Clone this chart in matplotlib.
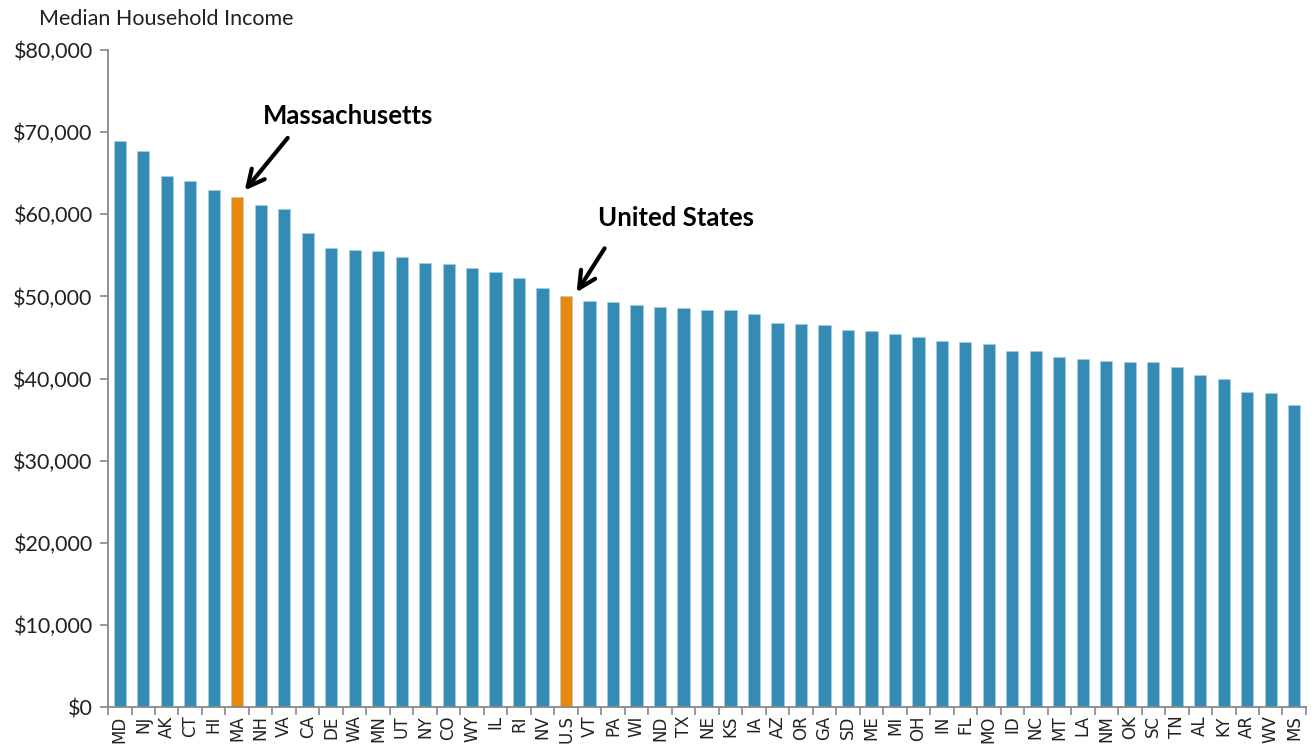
import matplotlib
matplotlib.use("Agg")
import matplotlib.pyplot as plt
from matplotlib.ticker import FuncFormatter, FixedLocator

states = ["MD", "NJ", "AK", "CT", "HI", "MA", "NH", "VA", "CA", "DE", "WA", "MN", "UT",
          "NY", "CO", "WY", "IL", "RI", "NV", "U.S", "VT", "PA", "WI", "ND", "TX", "NE",
          "KS", "IA", "AZ", "OR", "GA", "SD", "ME", "MI", "OH", "IN", "FL", "MO", "ID",
          "NC", "MT", "LA", "NM", "OK", "SC", "TN", "AL", "KY", "AR", "WV", "MS"]
income = [68900, 67700, 64600, 64000, 63000, 62100, 61100, 60700, 57700, 55900, 55600,
          55500, 54800, 54100, 54000, 53500, 53000, 52200, 51000, 50100, 49400, 49300,
          49000, 48700, 48600, 48400, 48300, 47900, 46800, 46600, 46500, 45900, 45800,
          45400, 45100, 44600, 44400, 44200, 43400, 43300, 42600, 42400, 42100, 42000,
          42000, 41400, 40400, 40000, 38300, 38200, 36800]
highlight = ["MA", "U.S"]

yticks = [0, 10000, 20000, 30000, 40000, 50000, 60000, 70000, 80000]

BLUE = "#348BB4"
ORANGE = "#E8890C"

plt.rcParams['font.family'] = ['Lato', 'DejaVu Sans']

fig = plt.figure(figsize=(13.14, 7.52), dpi=100)
ax = fig.add_axes([0.0822, 0.0598, 0.9117, 0.8737])

x = list(range(len(states)))
colors = [ORANGE if s in highlight else BLUE for s in states]
ax.bar(x, income, width=0.52, color=colors, edgecolor="#A9CFE3", linewidth=0.4)

ax.set_xlim(-0.5, len(states) - 0.5)
ax.set_ylim(0, 80000)
ax.set_yticks(yticks)
ax.yaxis.set_major_formatter(FuncFormatter(lambda v, p: "${:,.0f}".format(v)))
ax.set_xticks(x)
ax.set_xticklabels(states, rotation=90, fontsize=12, color="#222222",
                   family=["DejaVu Sans"])
ax.tick_params(axis="x", which="major", length=0, pad=6)
ax.xaxis.set_minor_locator(FixedLocator([i - 0.5 for i in range(len(states) + 1)]))
ax.tick_params(axis="x", which="minor", length=6, color="#888888", width=1.2, direction="out")
ax.tick_params(axis="y", length=6, color="#888888", width=1.2, labelsize=15.5,
               labelcolor="#222222", pad=5)

for s in ["top", "right"]:
    ax.spines[s].set_visible(False)
for s in ["left", "bottom"]:
    ax.spines[s].set_color("#888888")
    ax.spines[s].set_linewidth(1.3)

fig.text(0.030, 0.975, "Median Household Income", fontsize=15.5, color="#222222",
         ha="left", va="center")

arrow = dict(arrowstyle="->,head_length=1.2,head_width=0.6", color="black", lw=3.0,
             shrinkA=0, shrinkB=0)
ax.annotate("", xy=(5.32, 62900), xytext=(7.15, 69300), arrowprops=arrow)
ax.text(9.74, 71950, "Massachusetts", fontsize=18.5, fontweight="bold", ha="center",
        va="center", color="black")
ax.annotate("", xy=(19.45, 50500), xytext=(20.64, 55850), arrowprops=arrow)
ax.text(23.66, 59500, "United States", fontsize=18.5, fontweight="bold", ha="center",
        va="center", color="black")

fig.savefig("out.png", dpi=100)
